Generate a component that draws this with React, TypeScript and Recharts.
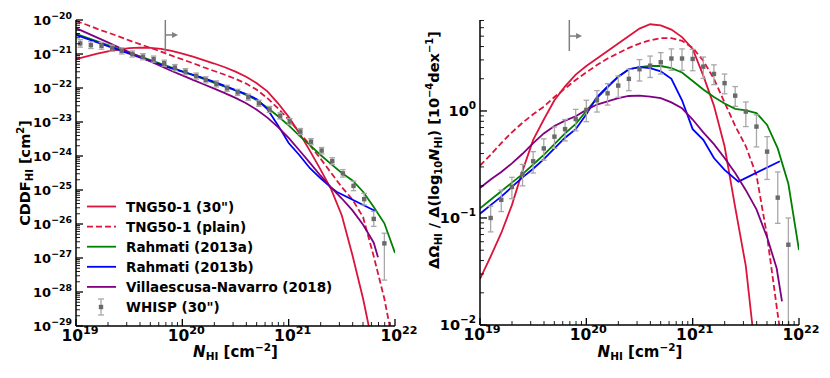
import React from "react";
import { ComposedChart, Line, Scatter, XAxis, YAxis, ErrorBar, ReferenceLine } from "recharts";

// ---------- shared x grid: log10(N_HI / cm^-2) ----------
const N_GRID = [19.0, 19.1, 19.2, 19.3, 19.4, 19.5, 19.6, 19.7, 19.8, 19.9, 20.0, 20.1, 20.2, 20.3, 20.4, 20.5, 20.6, 20.7, 20.8, 20.9, 21.0, 21.1, 21.2, 21.3, 21.4, 21.5, 21.6, 21.7, 21.8, 21.9, 22.0];

// ---------- left panel: log10 CDDF [cm^2] ----------
const cddfTng30 = [-21.15, -21.07, -20.99, -20.92, -20.87, -20.83, -20.81, -20.82, -20.85, -20.91, -20.99, -21.08, -21.18, -21.28, -21.39, -21.52, -21.67, -21.86, -22.10, -22.45, -22.85, -23.32, -23.85, -24.40, -24.98, -25.75, -26.92, -28.20, -29.70];
const cddfTngPlain = [-20.03, -20.14, -20.26, -20.37, -20.48, -20.60, -20.71, -20.82, -20.93, -21.05, -21.16, -21.27, -21.39, -21.50, -21.61, -21.73, -21.87, -22.05, -22.30, -22.60, -22.93, -23.30, -23.68, -24.08, -24.50, -24.92, -25.28, -25.80, -26.95, -28.20, -29.80];
const cddfRahmatiA = [-20.41, -20.52, -20.63, -20.74, -20.85, -20.96, -21.07, -21.18, -21.29, -21.40, -21.51, -21.62, -21.73, -21.85, -21.96, -22.07, -22.20, -22.36, -22.58, -22.83, -23.10, -23.40, -23.68, -23.97, -24.24, -24.50, -24.72, -25.05, -25.50, -25.98, -26.85];
const cddfRahmatiB = [-20.44, -20.55, -20.66, -20.77, -20.88, -20.99, -21.10, -21.21, -21.32, -21.42, -21.52, -21.61, -21.71, -21.82, -21.94, -22.06, -22.18, -22.33, -22.62, -23.10, -23.62, -23.97, -24.36, -24.66, -24.93];
const cddfRahmatiBTailN = [21.45, 21.81];
const cddfRahmatiBTail = [-25.05, -25.61];
const cddfVN = [-20.24, -20.38, -20.52, -20.66, -20.80, -20.94, -21.08, -21.22, -21.36, -21.50, -21.63, -21.76, -21.89, -22.02, -22.15, -22.29, -22.45, -22.64, -22.87, -23.15, -23.47, -23.83, -24.20, -24.58, -24.93, -25.25, -25.60, -26.02, -26.55];
const cddfVNTailN = [21.84];
const cddfVNTail = [-26.98];
const whispLeftN = [19.04, 19.14, 19.24, 19.34, 19.43, 19.53, 19.63, 19.73, 19.83, 19.93, 20.03, 20.13, 20.22, 20.32, 20.42, 20.52, 20.62, 20.72, 20.82, 20.92, 21.01, 21.11, 21.21, 21.31, 21.41, 21.51, 21.61, 21.71, 21.80, 21.90];
const whispLeft = [-20.69, -20.74, -20.76, -20.83, -20.91, -21.00, -21.08, -21.15, -21.27, -21.40, -21.52, -21.65, -21.76, -21.88, -22.01, -22.13, -22.27, -22.45, -22.63, -22.82, -22.99, -23.28, -23.58, -23.84, -24.15, -24.51, -24.88, -25.27, -25.85, -26.57];
const whispLeftErrUp = [0.11, 0.1, 0.1, 0.09, 0.09, 0.09, 0.09, 0.09, 0.09, 0.09, 0.09, 0.09, 0.09, 0.09, 0.09, 0.09, 0.09, 0.09, 0.09, 0.09, 0.09, 0.09, 0.09, 0.09, 0.1, 0.11, 0.14, 0.17, 0.22, 0.3];
const whispLeftErrDown = [0.11, 0.1, 0.1, 0.09, 0.09, 0.09, 0.09, 0.09, 0.09, 0.09, 0.09, 0.09, 0.09, 0.09, 0.09, 0.09, 0.09, 0.09, 0.09, 0.09, 0.09, 0.09, 0.09, 0.1, 0.1, 0.11, 0.14, 0.17, 0.22, 1.08];

// ---------- right panel: log10 dOmega/dlogN [1e-4 dex^-1] ----------
const omegaTng30 = [-1.57, -1.36, -1.14, -0.88, -0.56, -0.27, -0.08, 0.10, 0.23, 0.34, 0.42, 0.49, 0.56, 0.63, 0.70, 0.77, 0.81, 0.80, 0.76, 0.69, 0.58, 0.33, 0.05, -0.33, -0.90, -1.45, -2.35];
const omegaTngPlain = [-0.51, -0.41, -0.30, -0.20, -0.11, -0.03, 0.04, 0.13, 0.21, 0.29, 0.36, 0.43, 0.49, 0.54, 0.59, 0.63, 0.66, 0.68, 0.68, 0.655, 0.59, 0.47, 0.30, 0.08, -0.14, -0.33, -0.60, -1.17, -1.90, -2.60];
const omegaRahmatiA = [-0.91, -0.83, -0.75, -0.67, -0.59, -0.50, -0.41, -0.31, -0.21, -0.12, 0.00, 0.12, 0.22, 0.32, 0.39, 0.41, 0.42, 0.42, 0.40, 0.36, 0.28, 0.20, 0.13, 0.07, 0.02, 0.005, -0.02, -0.13, -0.35, -0.68, -1.30];
const omegaRahmatiB = [-0.96, -0.88, -0.80, -0.71, -0.62, -0.54, -0.45, -0.35, -0.25, -0.17, -0.03, 0.13, 0.23, 0.32, 0.39, 0.41, 0.40, 0.37, 0.30, 0.10, -0.17, -0.27, -0.44, -0.55];
const omegaRahmatiBTailN = [21.43, 21.82];
const omegaRahmatiBTail = [-0.66, -0.47];
const omegaVN = [-0.72, -0.64, -0.57, -0.49, -0.40, -0.30, -0.21, -0.14, -0.09, -0.05, 0.01, 0.06, 0.09, 0.12, 0.14, 0.143, 0.134, 0.12, 0.08, 0.025, -0.08, -0.20, -0.31, -0.44, -0.58, -0.74, -0.92, -1.18];
const omegaVNTailN = [21.79, 21.84];
const omegaVNTail = [-1.47, -1.78];
const whispRightN = [19.1, 19.2, 19.3, 19.4, 19.5, 19.6, 19.7, 19.8, 19.9, 20.0, 20.1, 20.2, 20.3, 20.4, 20.5, 20.6, 20.7, 20.8, 20.9, 21.0, 21.1, 21.2, 21.3, 21.4, 21.5, 21.6, 21.7, 21.8, 21.9];
const whispRight = [-1.0, -0.83, -0.71, -0.59, -0.47, -0.35, -0.24, -0.17, -0.075, 0.01, 0.10, 0.165, 0.237, 0.30, 0.39, 0.423, 0.455, 0.49, 0.49, 0.486, 0.414, 0.346, 0.26, 0.143, -0.006, -0.146, -0.38, -0.81, -1.25];
const whispRightErrUp = [0.11, 0.09, 0.09, 0.09, 0.09, 0.09, 0.09, 0.09, 0.09, 0.09, 0.09, 0.09, 0.09, 0.09, 0.09, 0.09, 0.09, 0.09, 0.09, 0.09, 0.09, 0.085, 0.085, 0.085, 0.09, 0.11, 0.14, 0.24, 0.25];
// the last lower bar runs off the bottom of the axis (shown down to 10^-2)
const whispRightErrDown = [0.13, 0.11, 0.11, 0.11, 0.11, 0.11, 0.11, 0.11, 0.11, 0.11, 0.11, 0.11, 0.11, 0.11, 0.11, 0.11, 0.11, 0.11, 0.11, 0.11, 0.11, 0.1, 0.1, 0.1, 0.14, 0.19, 0.26, 0.24, 0.75];

// ---------- arrow marker (resolution limit) ----------
const arrowN = 19.84;
const arrowEndN = 19.96;

const FONT = "'DejaVu Sans', sans-serif";
const RED = "#DC143C";
const GREEN = "#008000";
const BLUE = "#0000FF";
const PURPLE = "#800080";
const GRAY = "#808080";

const series = (xs: number[], ys: number[]) => ys.map((v, i) => ({ n: xs[i], v }));
const withTail = (ys: number[], tn: number[], tv: number[]) => [...series(N_GRID, ys), ...series(tn, tv)];
const whisp = (xs: number[], ys: number[], lo: number[], hi: number[]) => ys.map((v, i) => ({ n: xs[i], v, err: [lo[i], hi[i]] }));

const logTicks = (lo: number, hi: number, top: number) => {
  const out: number[] = [];
  for (let d = lo; d < hi; d++) {
    out.push(d);
    for (let k = 2; k <= 9; k++) out.push(d + Math.log10(k));
  }
  out.push(hi);
  for (let k = 2; k <= 9; k++) if (hi + Math.log10(k) <= top) out.push(hi + Math.log10(k));
  return out;
};
const isMajor = (v: number) => Math.abs(v - Math.round(v)) < 1e-6;
const expStr = (v: number) => { const r = Math.round(v); return r < 0 ? "\u2212" + Math.abs(r) : String(r); };

const PowLabel = ({ x, y, v, fs, anchor }: any) => (
  <text x={x} y={y} textAnchor={anchor} fontFamily={FONT} fontWeight="bold" fontSize={fs} fill="#000">
    10<tspan dy={-fs * 0.45} fontSize={fs * 0.72}>{expStr(v)}</tspan>
  </text>
);

const BottomTick = (p: any) => {
  const v = p.payload.value; const m = isMajor(v);
  return (
    <g>
      <line x1={p.x} x2={p.x} y1={p.y} y2={p.y - (m ? 7 : 4)} stroke="#000" strokeWidth={m ? 1.3 : 0.9} />
      {m && <PowLabel x={p.x + (p.dx || 0)} y={p.y + 14.5} v={v} fs={p.fs} anchor="middle" />}
    </g>
  );
};
const TopTick = (p: any) => {
  const m = isMajor(p.payload.value);
  return <line x1={p.x} x2={p.x} y1={p.y} y2={p.y + (m ? 7 : 4)} stroke="#000" strokeWidth={m ? 1.3 : 0.9} />;
};
const LeftTick = (p: any) => {
  const v = p.payload.value; const m = isMajor(v);
  return (
    <g>
      <line x1={p.x} x2={p.x + (m ? 7 : 4)} y1={p.y} y2={p.y} stroke="#000" strokeWidth={m ? 1.3 : 0.9} />
      {m && <PowLabel x={p.x - 4} y={p.y + 5} v={v} fs={p.fs} anchor="end" />}
    </g>
  );
};
const RightTick = (p: any) => {
  const m = isMajor(p.payload.value);
  return <line x1={p.x} x2={p.x - (m ? 7 : 4)} y1={p.y} y2={p.y} stroke="#000" strokeWidth={m ? 1.3 : 0.9} />;
};

const ArrowShape = (p: any) => {
  const { x1, y1, x2, y2 } = p;
  return (
    <g>
      <line x1={x1} y1={y1} x2={x2 - 4} y2={y2} stroke={GRAY} strokeWidth={1.5} />
      <polygon points={`${x2},${y2} ${x2 - 6},${y2 - 3} ${x2 - 6},${y2 + 3}`} fill={GRAY} />
    </g>
  );
};

const Square = (p: any) => <rect x={p.cx - 2.2} y={p.cy - 2.2} width={4.4} height={4.4} fill="#6a6a6a" />;

const xTicks = logTicks(19, 22, 22);
const leftYTicks = logTicks(-29, -20, -20);
const rightYTicks = logTicks(-2, 0, 0.85);

const axisLine = { stroke: "#000", strokeWidth: 1.5 };

const legendItems = [
  { label: "TNG50-1 (30\")", color: RED, dash: undefined },
  { label: "TNG50-1 (plain)", color: RED, dash: "6 3" },
  { label: "Rahmati (2013a)", color: GREEN, dash: undefined },
  { label: "Rahmati (2013b)", color: BLUE, dash: undefined },
  { label: "Villaescusa-Navarro (2018)", color: PURPLE, dash: undefined },
];

export default function App() {
  const leftData = {
    tng30: series(N_GRID, cddfTng30),
    plain: series(N_GRID, cddfTngPlain),
    ra: series(N_GRID, cddfRahmatiA),
    rb: withTail(cddfRahmatiB, cddfRahmatiBTailN, cddfRahmatiBTail),
    vn: withTail(cddfVN, cddfVNTailN, cddfVNTail),
    w: whisp(whispLeftN, whispLeft, whispLeftErrDown, whispLeftErrUp),
  };
  const rightData = {
    tng30: series(N_GRID, omegaTng30),
    plain: series(N_GRID, omegaTngPlain),
    ra: series(N_GRID, omegaRahmatiA),
    rb: withTail(omegaRahmatiB, omegaRahmatiBTailN, omegaRahmatiBTail),
    vn: withTail(omegaVN, omegaVNTailN, omegaVNTail),
    w: whisp(whispRightN, whispRight, whispRightErrDown, whispRightErrUp),
  };

  const renderSeries = (d: any) => [
    <Line key="tng30" data={d.tng30} dataKey="v" stroke={RED} strokeWidth={1.8} dot={false} isAnimationActive={false} />,
    <Line key="plain" data={d.plain} dataKey="v" stroke={RED} strokeWidth={1.8} strokeDasharray="6 3" dot={false} isAnimationActive={false} />,
    <Line key="ra" data={d.ra} dataKey="v" stroke={GREEN} strokeWidth={1.8} dot={false} isAnimationActive={false} />,
    <Line key="rb" data={d.rb} dataKey="v" stroke={BLUE} strokeWidth={1.8} dot={false} isAnimationActive={false} />,
    <Line key="vn" data={d.vn} dataKey="v" stroke={PURPLE} strokeWidth={1.8} dot={false} isAnimationActive={false} />,
    <Scatter key="w" data={d.w} dataKey="v" shape={Square} isAnimationActive={false}>
      <ErrorBar dataKey="err" direction="y" width={2.8} stroke="#a8a8a8" strokeWidth={1.3} />
    </Scatter>,
  ];

  return (
    <div style={{ position: "absolute", left: 0, top: 0, width: 830, height: 378, background: "#fff" }}>
      {/* LEFT PANEL */}
      <div style={{ position: "absolute", left: 0, top: 0, width: 440, height: 378 }}>
        <ComposedChart width={440} height={378} margin={{ top: 20, right: 45, bottom: 22, left: 16 }}>
          <XAxis dataKey="n" type="number" domain={[19, 22]} allowDataOverflow ticks={xTicks} interval={0} tickSize={0} tickMargin={0} tickLine={false} axisLine={axisLine} height={30} tick={<BottomTick fs={15.5} dx={4} />} />
          <XAxis xAxisId="top" orientation="top" dataKey="n" type="number" domain={[19, 22]} allowDataOverflow ticks={xTicks} interval={0} tickSize={0} tickMargin={0} tickLine={false} axisLine={axisLine} height={0} tick={<TopTick />} />
          <YAxis type="number" domain={[-29, -20]} allowDataOverflow ticks={leftYTicks} interval={0} tickSize={0} tickMargin={0} tickLine={false} axisLine={axisLine} width={60} tick={<LeftTick fs={13} />} />
          <YAxis yAxisId="right" orientation="right" type="number" domain={[-29, -20]} allowDataOverflow ticks={leftYTicks} interval={0} tickSize={0} tickMargin={0} tickLine={false} axisLine={axisLine} width={0} tick={<RightTick />} />
          {renderSeries(leftData)}
          <ReferenceLine segment={[{ x: arrowN, y: -20 }, { x: arrowN, y: -20.94 }]} stroke={GRAY} strokeWidth={1.5} />
          <ReferenceLine segment={[{ x: arrowN, y: -20.44 }, { x: arrowEndN, y: -20.44 }]} shape={ArrowShape} />
        </ComposedChart>
        <svg width={415} height={378} style={{ position: "absolute", left: 0, top: 0, pointerEvents: "none" }}>
          <text x={235.5} y={357} textAnchor="middle" fontFamily={FONT} fontWeight="bold" fontSize={15} fill="#000">
            <tspan fontStyle="italic">N</tspan><tspan dy={3} fontSize={10.5}>HI</tspan><tspan dy={-3}> [cm</tspan><tspan dy={-6} fontSize={10.5}>{"\u22122"}</tspan><tspan dy={6}>]</tspan>
          </text>
          <text transform="translate(30,173) rotate(-90)" textAnchor="middle" fontFamily={FONT} fontWeight="bold" fontSize={14.5} fill="#000">
            CDDF<tspan dy={3} fontSize={10}>HI</tspan><tspan dy={-3}> [cm</tspan><tspan dy={-6} fontSize={10}>2</tspan><tspan dy={6}>]</tspan>
          </text>
          {legendItems.map((it, i) => {
            const cy = 206.5 + 20.1 * i;
            return (
              <g key={it.label}>
                <line x1={87} x2={116} y1={cy} y2={cy} stroke={it.color} strokeWidth={1.8} strokeDasharray={it.dash} />
                <text x={126} y={cy + 5} fontFamily={FONT} fontWeight="bold" fontSize={13.5} fill="#000">{it.label}</text>
              </g>
            );
          })}
          {(() => {
            const cy = 206.5 + 20.1 * 5;
            return (
              <g>
                <line x1={101} x2={101} y1={cy - 8} y2={cy + 8} stroke="#a8a8a8" strokeWidth={1.3} />
                <line x1={98} x2={104} y1={cy - 8} y2={cy - 8} stroke="#a8a8a8" strokeWidth={1.3} />
                <line x1={98} x2={104} y1={cy + 8} y2={cy + 8} stroke="#a8a8a8" strokeWidth={1.3} />
                <rect x={98.8} y={cy - 2.2} width={4.4} height={4.4} fill="#6a6a6a" />
                <text x={126} y={cy + 5} fontFamily={FONT} fontWeight="bold" fontSize={13.5} fill="#000">WHISP (30")</text>
              </g>
            );
          })()}
        </svg>
      </div>

      {/* RIGHT PANEL */}
      <div style={{ position: "absolute", left: 415, top: 0, width: 415, height: 378 }}>
        <ComposedChart width={415} height={378} margin={{ top: 20, right: 31, bottom: 23, left: 10 }}>
          <XAxis dataKey="n" type="number" domain={[19, 22]} allowDataOverflow ticks={xTicks} interval={0} tickSize={0} tickMargin={0} tickLine={false} axisLine={axisLine} height={30} tick={<BottomTick fs={15.5} dx={2} />} />
          <XAxis xAxisId="top" orientation="top" dataKey="n" type="number" domain={[19, 22]} allowDataOverflow ticks={xTicks} interval={0} tickSize={0} tickMargin={0} tickLine={false} axisLine={axisLine} height={0} tick={<TopTick />} />
          <YAxis type="number" domain={[-2, 0.85]} allowDataOverflow ticks={rightYTicks} interval={0} tickSize={0} tickMargin={0} tickLine={false} axisLine={axisLine} width={55} tick={<LeftTick fs={14.5} />} />
          <YAxis yAxisId="right" orientation="right" type="number" domain={[-2, 0.85]} allowDataOverflow ticks={rightYTicks} interval={0} tickSize={0} tickMargin={0} tickLine={false} axisLine={axisLine} width={0} tick={<RightTick />} />
          {renderSeries(rightData)}
          <ReferenceLine segment={[{ x: arrowN, y: 0.85 }, { x: arrowN, y: 0.56 }]} stroke={GRAY} strokeWidth={1.5} />
          <ReferenceLine segment={[{ x: arrowN, y: 0.70 }, { x: arrowEndN, y: 0.70 }]} shape={ArrowShape} />
        </ComposedChart>
        <svg width={415} height={378} style={{ position: "absolute", left: 0, top: 0, pointerEvents: "none" }}>
          <text x={225} y={357} textAnchor="middle" fontFamily={FONT} fontWeight="bold" fontSize={15} fill="#000">
            <tspan fontStyle="italic">N</tspan><tspan dy={3} fontSize={10.5}>HI</tspan><tspan dy={-3}> [cm</tspan><tspan dy={-6} fontSize={10.5}>{"\u22122"}</tspan><tspan dy={6}>]</tspan>
          </text>
          <text transform="translate(24,150) rotate(-90)" textAnchor="middle" fontFamily={FONT} fontWeight="bold" fontSize={14.5} fill="#000">
            {"\u0394\u03A9"}<tspan dy={3} fontSize={10}>HI</tspan><tspan dy={-3}>{" / \u0394(log"}</tspan><tspan dy={3} fontSize={10}>10</tspan><tspan dy={-3} fontStyle="italic">N</tspan><tspan dy={3} fontSize={10}>HI</tspan><tspan dy={-3}>) [10</tspan><tspan dy={-6} fontSize={10}>{"\u22124"}</tspan><tspan dy={6}>dex</tspan><tspan dy={-6} fontSize={10}>{"\u22121"}</tspan><tspan dy={6}>]</tspan>
          </text>
        </svg>
      </div>
    </div>
  );
}
